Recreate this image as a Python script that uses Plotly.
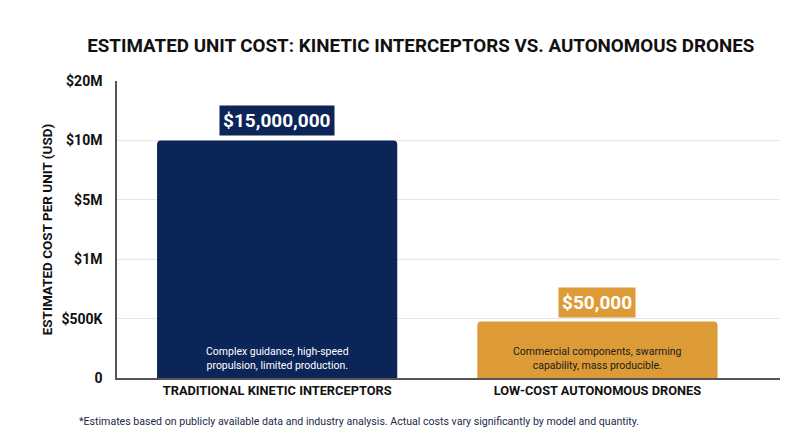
import plotly.graph_objects as go

categories = ["TRADITIONAL KINETIC INTERCEPTORS", "LOW-COST AUTONOMOUS DRONES"]
unit_costs_usd = [15000000, 50000]
# bar heights as read against the (non-linear, evenly spaced) tick scale
bar_heights = [4.0, 0.95]
descriptions = ["Complex guidance, high-speed<br>propulsion, limited production.",
                "Commercial components, swarming<br>capability, mass producible."]
tick_positions = [0, 1, 2, 3, 4, 5]
tick_labels = ["0", "$500K", "$1M", "$5M", "$10M", "$20M"]

colors = ["#0c2558", "#dc9b36"]
desc_colors = ["#ffffff", "#1b1b1b"]
FONT = "Roboto, Inter, sans-serif"

fig = go.Figure()
fig.add_trace(go.Bar(
    x=categories, y=bar_heights, marker=dict(color=colors, cornerradius=4, line=dict(width=0)),
    width=0.75, hoverinfo="skip"))

for i, cat in enumerate(categories):
    fig.add_annotation(x=cat, y=bar_heights[i], xref="x", yref="y",
                       text="<b>${:,}</b>".format(unit_costs_usd[i]),
                       showarrow=False, yanchor="bottom", yshift=4,
                       font=dict(family=FONT, size=19, color="white"),
                       bgcolor=colors[i], borderpad=3)
    fig.add_annotation(x=cat, y=0, xref="x", yref="y", text=descriptions[i],
                       showarrow=False, yanchor="bottom", yshift=4,
                       font=dict(family=FONT, size=10.5, color=desc_colors[i]))

fig.update_layout(
    width=800, height=447,
    margin=dict(l=109, r=28, t=73, b=77, autoexpand=False),
    paper_bgcolor="white", plot_bgcolor="white",
    title=dict(text="<b>ESTIMATED UNIT COST: KINETIC INTERCEPTORS VS. AUTONOMOUS DRONES</b>",
               x=0.516, xanchor="center", y=0.917, yanchor="middle",
               font=dict(family=FONT, size=18.8, color="#111111")),
    showlegend=False,
    xaxis=dict(range=[-0.5, 1.57], showgrid=False, showline=True, linecolor="#555555",
               linewidth=1.5, ticks="", automargin=False,
               tickfont=dict(family=FONT, size=12.8, color="#111111"),
               tickvals=categories, ticktext=["<b>%s</b>" % c for c in categories]),
    yaxis=dict(range=[0, 5], tickvals=tick_positions,
               ticktext=["<b>%s</b>" % t for t in tick_labels],
               showgrid=True, gridcolor="#e6e6e6", gridwidth=1,
               showline=True, linecolor="#555555", linewidth=1.5, zeroline=False,
               ticks="", ticklabelstandoff=10, automargin=False,
               tickfont=dict(family=FONT, size=14, color="#111111"),
               title=dict(text="<b>ESTIMATED COST PER UNIT (USD)</b>", standoff=6,
                          font=dict(family=FONT, size=13.5, color="#111111"))),
)

fig.add_annotation(xref="paper", yref="paper", x=-0.0603, y=-0.145, xanchor="left", yanchor="middle",
                   text="*Estimates based on publicly available data and industry analysis. Actual costs vary significantly by model and quantity.",
                   showarrow=False, font=dict(family=FONT, size=10.6, color="#1c2a4a"))

fig.write_html("out.html")
